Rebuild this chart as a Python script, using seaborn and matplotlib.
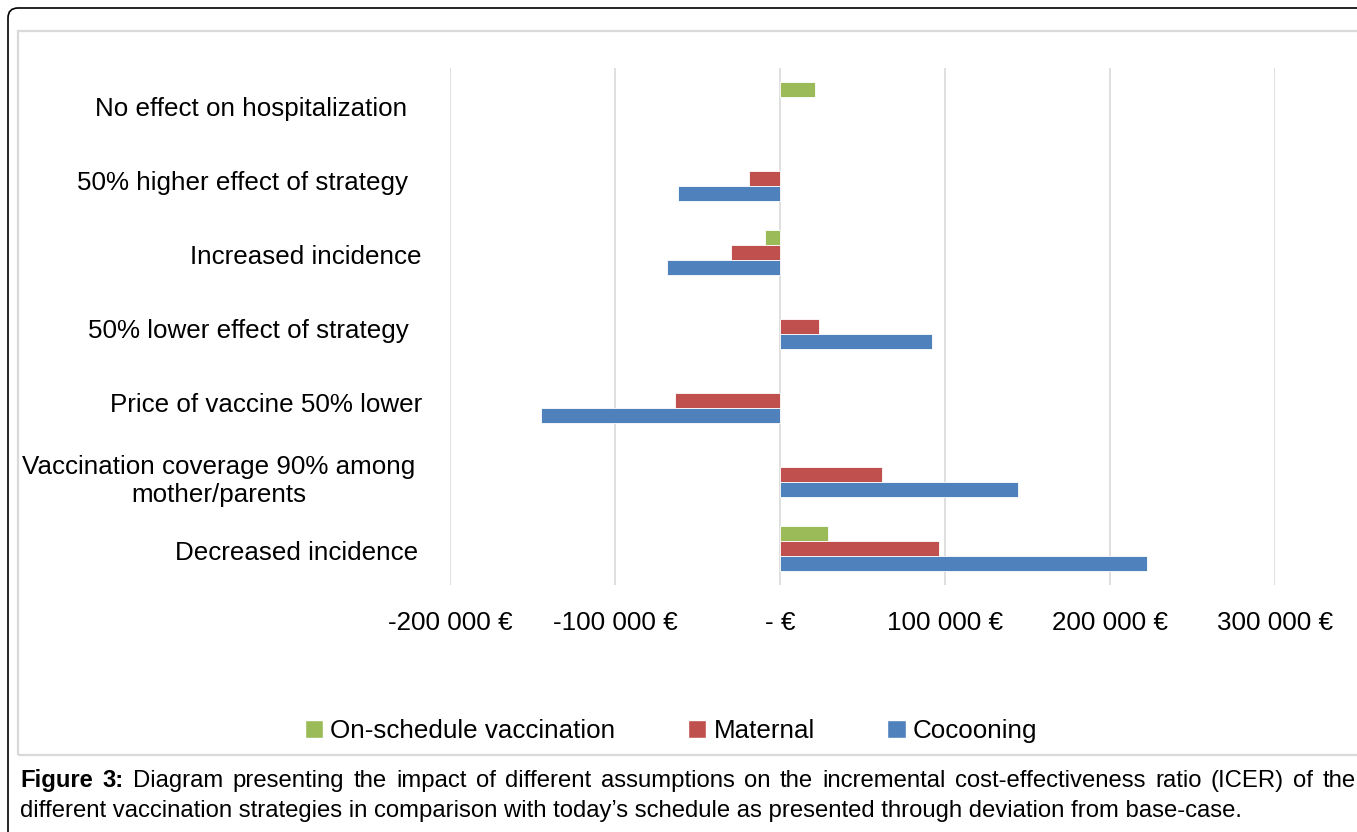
import matplotlib
matplotlib.use("Agg")
import matplotlib.pyplot as plt
import matplotlib.transforms as mtransforms
import seaborn as sns
import pandas as pd
from matplotlib.patches import FancyBboxPatch, Rectangle, Patch
from matplotlib.ticker import FuncFormatter

# Chart data
scenarios = ["No effect on hospitalization", "50% higher effect of strategy",
             "Increased incidence", "50% lower effect of strategy",
             "Price of vaccine 50% lower",
             "Vaccination coverage 90% among\nmother/parents",
             "Decreased incidence"]
strategies = ["On-schedule vaccination", "Maternal", "Cocooning"]
on_schedule = [21000, None, -9300, None, None, None, 29300]
maternal = [None, -19000, -30000, 23600, -63500, 62000, 96500]
cocooning = [None, -62000, -68700, 92000, -145000, 144400, 222600]
colors = ["#9BBB59", "#C0504D", "#4F81BD"]
x_ticks = [-200000, -100000, 0, 100000, 200000, 300000]

caption_bold = "Figure 3:"
caption_line1 = ("Diagram presenting the impact of different assumptions on the "
                 "incremental cost-effectiveness ratio (ICER) of the")
caption_line2 = ("different vaccination strategies in comparison with today\u2019s "
                 "schedule as presented through deviation from base-case.")

# long format table for seaborn
rows = []
for name, vals in zip(strategies, [on_schedule, maternal, cocooning]):
    for sc, v in zip(scenarios, vals):
        if v is not None:
            rows.append({"scenario": sc, "strategy": name, "value": v})
df = pd.DataFrame(rows)

sns.set_theme(style="white")
plt.rcParams["font.family"] = ["Liberation Sans", "DejaVu Sans"]
plt.rcParams["text.color"] = "black"

W, H = 1357, 832
FS = 18.7
fig = plt.figure(figsize=(W / 100, H / 100), dpi=100)
ax = fig.add_axes([450 / W, 1 - 585 / H, 825 / W, 517 / H])

# frames around the figure
fig.patches.append(FancyBboxPatch((0.08, -1), 15, 9.24, boxstyle="round,pad=0,rounding_size=0.1",
                                  transform=fig.dpi_scale_trans, fill=False,
                                  edgecolor="black", linewidth=1.2, zorder=0))
fig.patches.append(Rectangle((0.18, (H - 755) / 100), 15, (755 - 31) / 100,
                             transform=fig.dpi_scale_trans, fill=False,
                             edgecolor="#d9d9d9", linewidth=1.6, zorder=0))

sns.barplot(data=df, y="scenario", x="value", hue="strategy", order=scenarios,
            hue_order=strategies, palette=colors, saturation=1, orient="h", width=0.61,
            errorbar=None, edgecolor="white", linewidth=0.6, ax=ax, legend=False,
            zorder=3)

ax.set_xlim(-200000, 300000)
ax.set_xticks(x_ticks)
ax.xaxis.set_major_formatter(FuncFormatter(
    lambda v, p: "- \u20ac" if v == 0 else f"{int(v):,} \u20ac".replace(",", " ")))
ax.grid(axis="x", color="#d9d9d9", linewidth=1.2, zorder=0)
ax.set_axisbelow(True)
for s in ax.spines.values():
    s.set_visible(False)
ax.set_xlabel("")
ax.set_ylabel("")
ax.tick_params(axis="x", length=0, pad=19, labelsize=FS, labelcolor="black")
ax.tick_params(axis="y", length=0, pad=20, labelsize=FS, labelcolor="black")

# excel-like trailing space on the category labels
label_shift_px = [-15, -14, -1, -13, 0, -7, -4]
for t, dx in zip(ax.get_yticklabels(), label_shift_px):
    t.set_multialignment("center")
    t.set_transform(t.get_transform() + mtransforms.ScaledTranslation(dx / 100, -0.02, fig.dpi_scale_trans))

handles = [Patch(facecolor=c, edgecolor="white", label=l) for c, l in zip(colors, strategies)]
fig.legend(handles=handles, loc="center", bbox_to_anchor=(671 / W, 1 - 731 / H), ncol=3,
           frameon=False, fontsize=FS, handlelength=0.7, handleheight=0.7,
           handletextpad=0.28, columnspacing=2.8, labelcolor="black")

# caption, first line justified to the right edge
fig.canvas.draw()
renderer = fig.canvas.get_renderer()
cfs = 17.2
words = [(w, "bold") for w in caption_bold.split()] + [(w, "normal") for w in caption_line1.split()]
texts = []
widths = []
for w, wt in words:
    t = fig.text(0, 0, w, fontsize=cfs, fontweight=wt, transform=None, va="baseline")
    widths.append(t.get_window_extent(renderer).width)
    texts.append(t)
x0, x1 = 20, 1356
gap = (x1 - x0 - sum(widths)) / (len(words) - 1)
x = x0
for t, wdt in zip(texts, widths):
    t.set_position((x, H - 787))
    x += wdt + gap
fig.text(20 / W, 1 - 817 / H, caption_line2, fontsize=cfs, va="baseline", ha="left")

fig.savefig("out.png", dpi=100)
